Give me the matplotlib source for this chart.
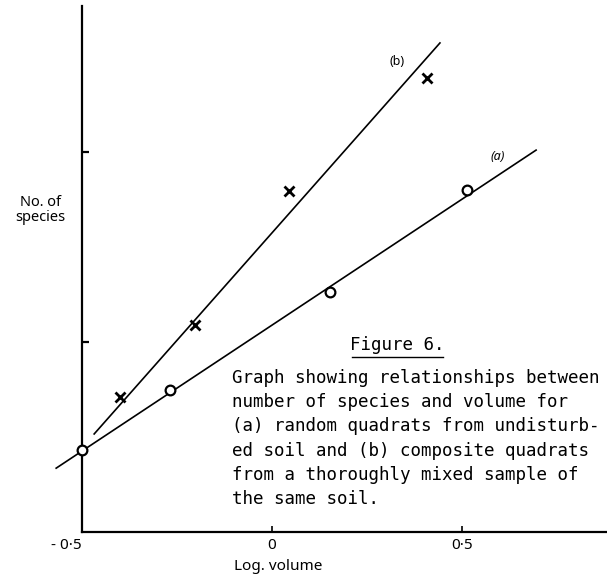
import matplotlib
matplotlib.use("Agg")
import matplotlib.pyplot as plt
from matplotlib.lines import Line2D

# ── Data ───────────────────────────────────────────────────────────────────────
# (a) random quadrats, undisturbed soil
a_logvol  = [-0.50, -0.268, 0.153, 0.513]
a_species = [0.216, 0.374, 0.632, 0.900]
a_line_x  = [-0.568, 0.695]
a_line_y  = [0.168, 1.005]

# (b) composite quadrats, thoroughly mixed sample
b_logvol  = [-0.40, -0.203, 0.045, 0.408]
b_species = [0.355, 0.545, 0.897, 1.195]
b_line_x  = [-0.468, 0.442]
b_line_y  = [0.258, 1.287]

x_ticks      = [-0.5, 0.0, 0.5]
x_ticklabels = ["- 0·5", "0", "0·5"]
y_ticks      = [0.5, 1.0]

caption = [
    "Graph showing relationships between",
    "number of species and volume for",
    "(a) random quadrats from undisturb-",
    "ed soil and (b) composite quadrats",
    "from a thoroughly mixed sample of",
    "the same soil.",
]

# ── Figure ─────────────────────────────────────────────────────────────────────
W, H = 607, 584
fig = plt.figure(figsize=(W / 100, H / 100), dpi=100)
ax = fig.add_axes([0, 0, 1, 1])
ax.set_xlim(-0.7158, 0.8816)
ax.set_ylim(-0.1368, 1.40)

for s in ("top", "right"):
    ax.spines[s].set_visible(False)
ax.spines["left"].set_position(("data", -0.5))
ax.spines["bottom"].set_position(("data", 0.0))
ax.spines["left"].set_bounds(0.0, 1.383)
ax.spines["bottom"].set_bounds(-0.5, 0.8816)
for s in ("left", "bottom"):
    ax.spines[s].set_linewidth(1.6)

ax.set_xticks(x_ticks)
ax.set_xticklabels(x_ticklabels, fontsize=11, family="Noto Sans")
ax.get_xticklabels()[0].set_horizontalalignment("right")
ax.set_yticks(y_ticks)
ax.set_yticklabels([])
ax.tick_params(axis="x", direction="in", length=4, width=1.2, pad=4)
ax.tick_params(axis="y", direction="in", length=5, width=1.6)

# fitted lines
ax.plot(a_line_x, a_line_y, color="black", lw=1.2, zorder=2)
ax.plot(b_line_x, b_line_y, color="black", lw=1.2, zorder=2)

# points
ax.plot(a_logvol, a_species, "o", ms=7, mfc="white", mec="black", mew=1.6,
        zorder=3, clip_on=False)
ax.plot(b_logvol, b_species, "x", ms=7, mec="black", mew=2.0, zorder=3)

ax.text(0.329, 1.239, "(b)", fontsize=9, ha="center", va="center",
        family="Noto Sans")
ax.text(0.595, 0.987, "(a)", fontsize=9, ha="center", va="center",
        family="Noto Sans", style="italic")

# axis labels
fig.text(40 / W, 1 - 210 / H, "No. of\nspecies", fontsize=10.5, ha="center",
         va="center", family="Noto Sans", linespacing=0.95)
fig.text(278 / W, 1 - 566 / H, "Log. volume", fontsize=11, ha="center",
         va="center", family="Noto Sans")

# caption block
fig.text(397 / W, 1 - 345 / H, "Figure 6.", fontsize=12.6, ha="center",
         va="center", family="DejaVu Sans Mono")
fig.add_artist(Line2D([352 / W, 443 / W], [1 - 357 / H, 1 - 357 / H],
                      color="black", lw=1.0))
for i, line in enumerate(caption):
    fig.text(232 / W, 1 - (378 + 24.2 * i) / H, line, fontsize=12.6,
             ha="left", va="center", family="DejaVu Sans Mono")

fig.savefig("out.png", dpi=100)
